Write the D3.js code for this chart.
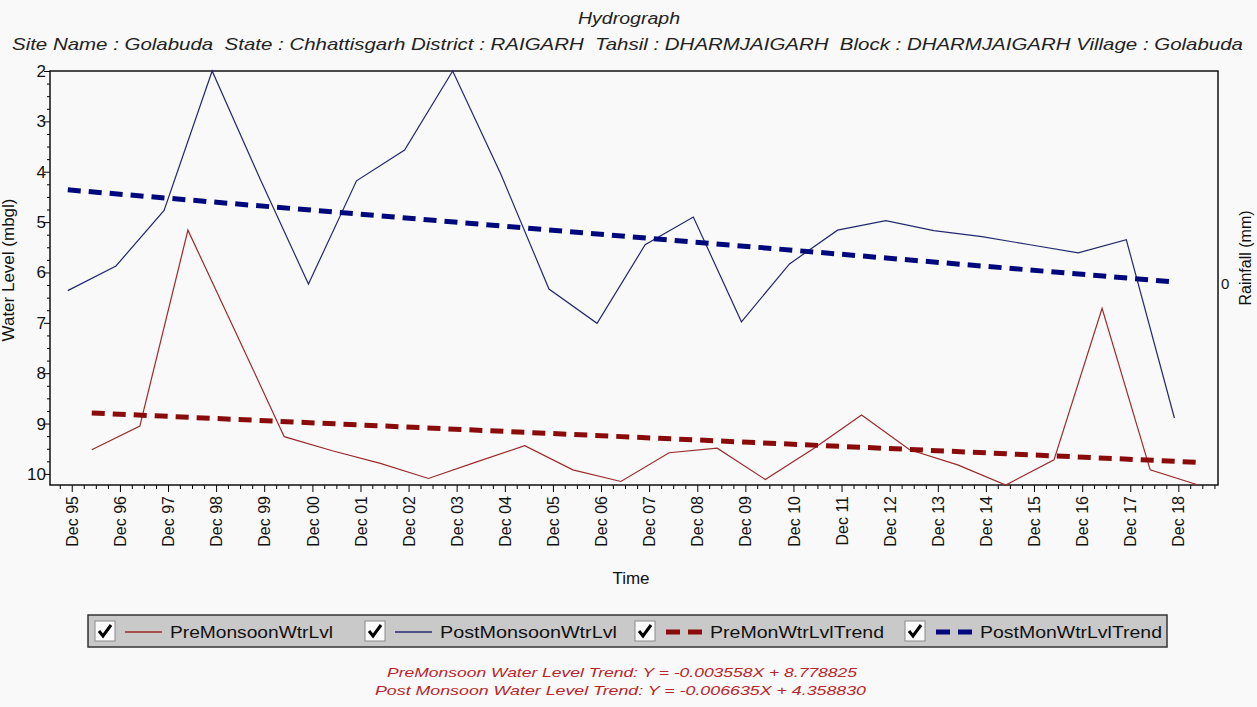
<!DOCTYPE html>
<html>
<head>
<meta charset="utf-8">
<script src="https://cdnjs.cloudflare.com/ajax/libs/d3/7.8.5/d3.min.js"></script>
<style>
  body { margin: 0; background: #f9f9f9; }
  svg { display: block; font-family: "Liberation Sans", Arial, sans-serif; }
</style>
</head>
<body>
<svg></svg>
<script>
// Post-monsoon readings (November) 1995 - 2018
let postYears = [1995, 1996, 1997, 1998, 1999, 2000, 2001, 2002, 2003, 2004, 2005, 2006,
                 2007, 2008, 2009, 2010, 2011, 2012, 2013, 2014, 2015, 2016, 2017, 2018]
let postLevels = [6.36, 5.87, 4.77, 2.0, 4.15, 6.23, 4.18, 3.57, 2.0, 4.05, 6.33, 7.01,
                  5.45, 4.9, 6.98, 5.83, 5.16, 4.97, 5.17, 5.29, 5.45, 5.61, 5.35, 8.89]

// Pre-monsoon readings (May) 1996 - 2019
let preYears = [1996, 1997, 1998, 1999, 2000, 2001, 2002, 2003, 2004, 2005, 2006, 2007,
                2008, 2009, 2010, 2011, 2012, 2013, 2014, 2015, 2016, 2017, 2018, 2019]
let preLevels = [9.52, 9.05, 5.16, 7.2, 9.26, 9.54, 9.79, 10.09, 9.76, 9.44, 9.92, 10.15,
                 9.58, 9.49, 10.11, 9.5, 8.83, 9.52, 9.82, 10.22, 9.72, 6.71, 9.92, 10.22]

// trend lines, start / end values
let preTrend = [8.79, 9.77]
let postTrend = [4.36, 6.19]

let yTicks = [2, 3, 4, 5, 6, 7, 8, 9, 10]
let rainTicks = [0]

let legendNames = ["PreMonsoonWtrLvl", "PostMonsoonWtrLvl", "PreMonWtrLvlTrend", "PostMonWtrLvlTrend"]
let trendTexts = ["PreMonsoon Water Level Trend: Y = -0.003558X + 8.778825",
                  "Post Monsoon Water Level Trend: Y = -0.006635X + 4.358830"]

let width = 1257
let height = 707
let plotLeft = 50, plotRight = 1218, plotTop = 71, plotBottom = 485

let preColor = "#9b2a2a"
let postColor = "#23286e"
let preTrendColor = "#8b0a0a"
let postTrendColor = "#00087e"

let svg = d3.select("svg").attr("width", width).attr("height", height)

let pre = preYears.map((y, i) => ({ date: new Date(y, 4, 1), v: preLevels[i] }))
let post = postYears.map((y, i) => ({ date: new Date(y, 10, 1), v: postLevels[i] }))

let xScale = d3.scaleTime()
    .domain([new Date(1995, 5, 19), new Date(2019, 8, 28)])
    .range([plotLeft, plotRight])

let yScale = d3.scaleLinear()
    .domain([2, 10.22])
    .range([plotTop, plotBottom])

let rainScale = d3.scaleLinear()
    .domain([1, -1])
    .range([plotTop, plotBottom])

// titles
svg.append("text")
    .attr("x", 629).attr("y", 24)
    .attr("text-anchor", "middle")
    .attr("font-size", 16).attr("font-style", "italic")
    .attr("textLength", 102).attr("lengthAdjust", "spacingAndGlyphs")
    .attr("fill", "#222")
    .text("Hydrograph")

svg.append("text")
    .attr("x", 12).attr("y", 50)
    .attr("font-size", 17).attr("font-style", "italic")
    .attr("textLength", 1231).attr("lengthAdjust", "spacingAndGlyphs")
    .attr("fill", "#222")
    .style("white-space", "pre")
    .text("Site Name : Golabuda  State : Chhattisgarh District : RAIGARH  Tahsil : DHARMJAIGARH  Block : DHARMJAIGARH Village : Golabuda")

// axes
let months = d3.timeMonth.range(xScale.domain()[0], xScale.domain()[1]).filter(d => d.getMonth() % 3 === 2)
let decs = months.filter(d => d.getMonth() === 11)
let minorX = months.filter(d => d.getMonth() !== 11)

let xAxis = svg.append("g")
    .attr("transform", "translate(0," + plotBottom + ")")
    .call(d3.axisBottom(xScale).tickValues(decs).tickSize(7).tickFormat(d3.timeFormat("Dec %y")))
xAxis.select(".domain").remove()
xAxis.selectAll("text")
    .attr("transform", "rotate(-90)")
    .attr("text-anchor", "end")
    .attr("x", -11).attr("y", 0).attr("dy", "0.35em")
    .attr("font-size", 16).attr("fill", "#111")
    .attr("font-family", "Liberation Sans, Arial, sans-serif")

svg.append("g")
    .attr("transform", "translate(0," + plotBottom + ")")
    .call(d3.axisBottom(xScale).tickValues(minorX).tickSize(4).tickFormat(""))
    .select(".domain").remove()

let yAxis = svg.append("g")
    .attr("transform", "translate(" + plotLeft + ",0)")
    .call(d3.axisLeft(yScale).tickValues(yTicks).tickSize(6))
yAxis.select(".domain").remove()
yAxis.selectAll("text")
    .attr("font-size", 17).attr("fill", "#111")
    .attr("font-family", "Liberation Sans, Arial, sans-serif")
    .attr("x", -4)

svg.append("g")
    .attr("transform", "translate(" + plotLeft + ",0)")
    .call(d3.axisLeft(yScale).tickValues(d3.range(2, 10.2, 0.25).filter(v => v % 1 !== 0)).tickSize(3).tickFormat(""))
    .select(".domain").remove()

let rainAxis = svg.append("g")
    .attr("transform", "translate(" + plotRight + ",0)")
    .call(d3.axisRight(rainScale).tickValues(rainTicks).tickSize(0).tickFormat(d3.format("d")))
rainAxis.select(".domain").remove()
rainAxis.selectAll("text")
    .attr("x", 3).attr("dy", "0.7em")
    .attr("font-size", 15).attr("fill", "#111")
    .attr("font-family", "Liberation Sans, Arial, sans-serif")

// plot frame
svg.append("rect")
    .attr("x", plotLeft).attr("y", plotTop)
    .attr("width", plotRight - plotLeft).attr("height", plotBottom - plotTop)
    .attr("fill", "none").attr("stroke", "#111").attr("stroke-width", 1.5)

// axis titles
svg.append("text")
    .attr("transform", "translate(14,270) rotate(-90)")
    .attr("text-anchor", "middle")
    .attr("font-size", 17).attr("fill", "#111")
    .text("Water Level (mbgl)")

svg.append("text")
    .attr("transform", "translate(1251,258) rotate(-90)")
    .attr("text-anchor", "middle")
    .attr("font-size", 16).attr("fill", "#111")
    .text("Rainfall (mm)")

svg.append("text")
    .attr("x", 631).attr("y", 584)
    .attr("text-anchor", "middle")
    .attr("font-size", 17).attr("fill", "#111")
    .text("Time")

// series
let line = d3.line().x(d => xScale(d.date)).y(d => yScale(d.v))

let plot = svg.append("g")

plot.append("path")
    .datum(pre)
    .attr("d", line)
    .attr("fill", "none").attr("stroke", preColor).attr("stroke-width", 1.2)

plot.append("path")
    .datum(post)
    .attr("d", line)
    .attr("fill", "none").attr("stroke", postColor).attr("stroke-width", 1.2)

let preTrendData = [{ date: pre[0].date, v: preTrend[0] }, { date: pre[pre.length - 1].date, v: preTrend[1] }]
let postTrendData = [{ date: post[0].date, v: postTrend[0] }, { date: post[post.length - 1].date, v: postTrend[1] }]

plot.append("path")
    .datum(preTrendData)
    .attr("d", line)
    .attr("fill", "none").attr("stroke", preTrendColor).attr("stroke-width", 5)
    .attr("stroke-dasharray", "13,8")

plot.append("path")
    .datum(postTrendData)
    .attr("d", line)
    .attr("fill", "none").attr("stroke", postTrendColor).attr("stroke-width", 5)
    .attr("stroke-dasharray", "13,8")

// legend
let legend = svg.append("g")
legend.append("rect")
    .attr("x", 88).attr("y", 615).attr("width", 1079).attr("height", 32)
    .attr("fill", "#c9c9c9").attr("stroke", "#333").attr("stroke-width", 1.5)

let legendX = [95, 365, 635, 905]
let textLen = [163, 177, 174, 182]
let legendColor = [preColor, postColor, preTrendColor, postTrendColor]

legendNames.forEach((name, i) => {
    let g = legend.append("g").attr("transform", "translate(" + legendX[i] + ",621)")
    g.append("rect")
        .attr("width", 20).attr("height", 20)
        .attr("fill", "#fbfbfb").attr("stroke", "#8a8a8a").attr("stroke-width", 1)
    g.append("path")
        .attr("d", "M4,10 L8,15 L16,4")
        .attr("fill", "none").attr("stroke", "#000").attr("stroke-width", 3)
    if (i < 2) {
        g.append("line")
            .attr("x1", 30).attr("x2", 67).attr("y1", 11).attr("y2", 11)
            .attr("stroke", legendColor[i]).attr("stroke-width", 1.3)
    } else {
        g.append("line")
            .attr("x1", 31).attr("x2", 67).attr("y1", 11).attr("y2", 11)
            .attr("stroke", legendColor[i]).attr("stroke-width", 5)
            .attr("stroke-dasharray", "14,8")
    }
    g.append("text")
        .attr("x", 75).attr("y", 17)
        .attr("font-size", 16).attr("fill", "#111")
        .attr("textLength", textLen[i]).attr("lengthAdjust", "spacingAndGlyphs")
        .text(name)
})

// trend equations
svg.selectAll(".trend")
    .data(trendTexts)
    .enter()
    .append("text")
    .attr("class", "trend")
    .attr("x", (d, i) => i === 0 ? 387 : 375)
    .attr("y", (d, i) => 677 + i * 18)
    .attr("font-size", 13).attr("font-style", "italic")
    .attr("fill", "#b8262b")
    .attr("textLength", (d, i) => i === 0 ? 470 : 491)
    .attr("lengthAdjust", "spacingAndGlyphs")
    .text(d => d)
</script>
</body>
</html>
